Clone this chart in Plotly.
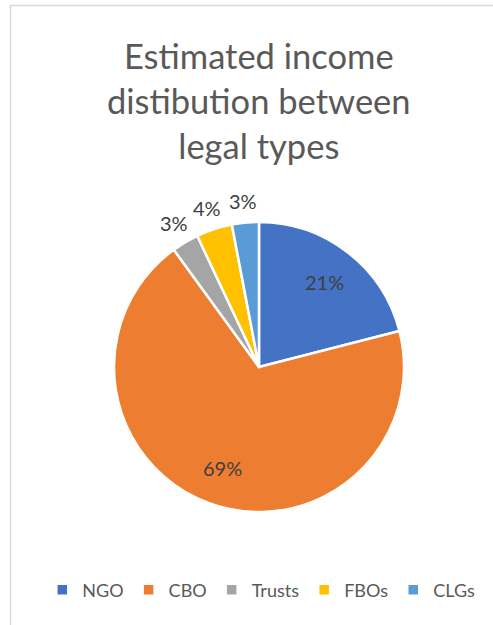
import math
import plotly.graph_objects as go

# Income share by legal type (percent)
legal_types = ["NGO", "CBO", "Trusts", "FBOs", "CLGs"]
income_share = [21, 69, 3, 4, 3]
slice_colors = ["#4472C4", "#ED7D31", "#A5A5A5", "#FFC000", "#5B9BD5"]

W, H = 493, 625
FONT = "Lato"

# Pie placement in pixels (centre and radius) -> paper domain
CX, CY, R = 259, 367, 145
pie_domain = dict(
    x=[(CX - R) / W, (CX + R) / W],
    y=[1 - (CY + R) / H, 1 - (CY - R) / H],
)

fig = go.Figure(
    go.Pie(
        labels=legal_types,
        values=income_share,
        sort=False,
        direction="clockwise",
        rotation=0,
        marker=dict(colors=slice_colors, line=dict(color="white", width=2.5)),
        textinfo="none",
        domain=pie_domain,
        hoverinfo="label+percent",
    )
)

# Percentage labels: large slices inside, thin slices just outside the rim
total = sum(income_share)
label_annotations = []
cum = 0.0
for name, val in zip(legal_types, income_share):
    mid = (cum + val / 2) / total * 2 * math.pi  # clockwise from 12 o'clock
    cum += val
    frac = 0.74 if val / total > 0.1 else 1.15
    px = CX + math.sin(mid) * R * frac
    py = CY - math.cos(mid) * R * frac
    label_annotations.append(
        dict(
            text=f"{val}%",
            x=px / W,
            y=1 - py / H,
            xref="paper",
            yref="paper",
            xanchor="center",
            yanchor="middle",
            showarrow=False,
            font=dict(family=FONT, size=20, color="#404040"),
        )
    )

title_annotation = dict(
    text="Estimated income<br>distibution between<br>legal types",
    x=259 / W,
    y=1 - 100 / H,
    xref="paper",
    yref="paper",
    xanchor="center",
    yanchor="middle",
    showarrow=False,
    font=dict(family=FONT, size=34.5, color="#595959"),
)

fig.update_layout(
    width=W,
    height=H,
    margin=dict(l=0, r=0, t=0, b=0),
    paper_bgcolor="white",
    plot_bgcolor="white",
    font=dict(family=FONT, color="#595959"),
    showlegend=True,
    legend=dict(
        orientation="h",
        x=0.53,
        xanchor="center",
        y=1 - 590 / H,
        yanchor="middle",
        font=dict(family=FONT, size=18, color="#595959"),
        itemwidth=30,
    ),
    annotations=[title_annotation] + label_annotations,
    shapes=[
        dict(
            type="rect",
            xref="paper",
            yref="paper",
            x0=10.5 / W,
            x1=1.2,
            y0=-0.2,
            y1=1 - 5.5 / H,
            line=dict(color="#D9D9D9", width=1.5),
            fillcolor="rgba(0,0,0,0)",
        )
    ],
)

fig.write_html("out.html")
